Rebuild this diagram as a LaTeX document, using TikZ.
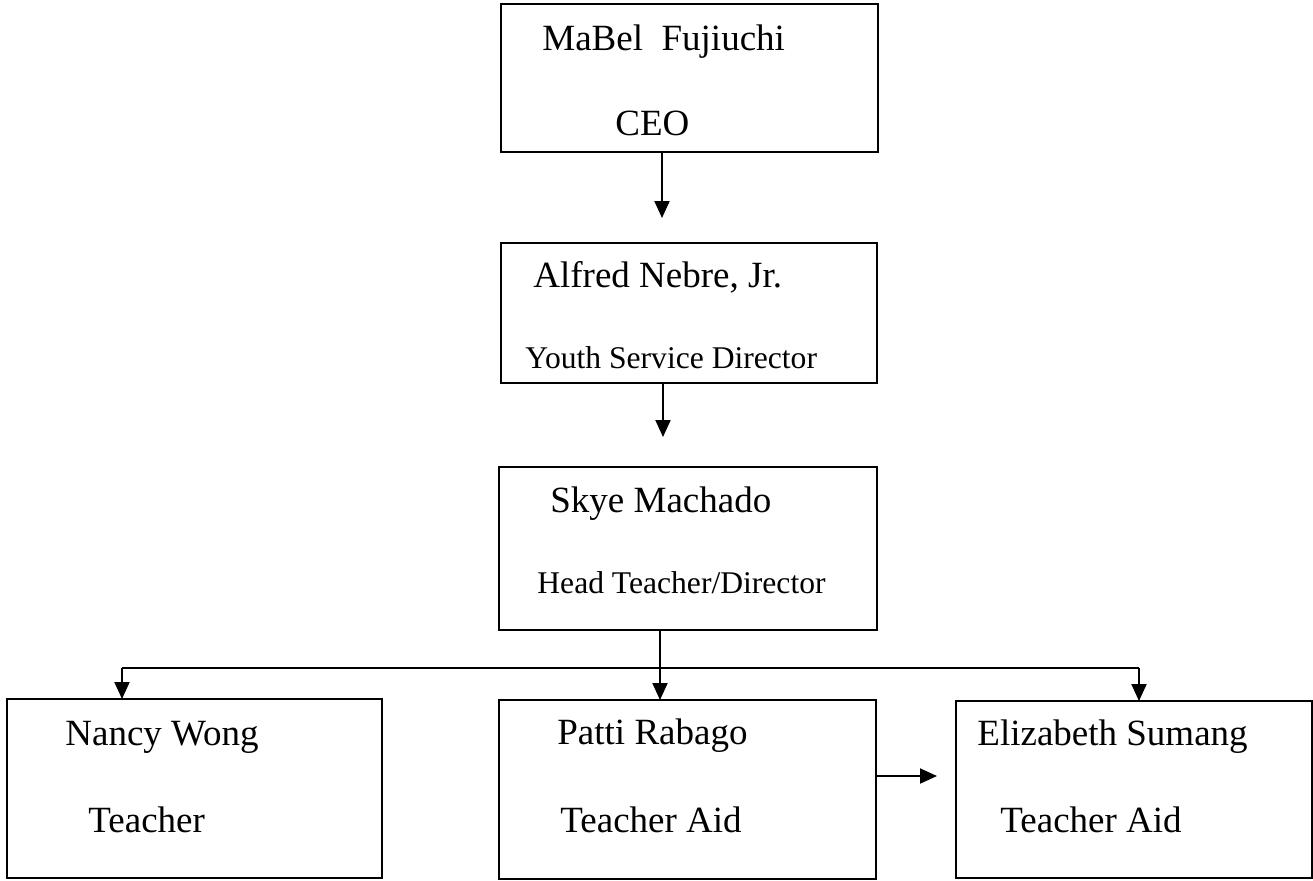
\documentclass[tikz,border=0pt]{standalone}
\usepackage{fontspec}
\setmainfont{Liberation Serif}
\usetikzlibrary{arrows.meta}
\begin{document}
\begin{tikzpicture}[x=0.5pt,y=-0.5pt,
  box/.style={draw, line width=1pt, rectangle, inner sep=0pt, outer sep=0pt},
  big/.style={anchor=base west, inner sep=0pt, font=\fontsize{18.5}{22}\selectfont},
  small/.style={anchor=base west, inner sep=0pt, font=\fontsize{15.8}{19}\selectfont},
  conn/.style={line width=1pt},
  arr/.style={line width=1pt, -{Triangle[length=8.5pt,width=7.5pt]}}]
\useasboundingbox (0,0) rectangle (1313,880);
% boxes
\node[box, minimum width=188.5pt, minimum height=74pt] (b1) at (689.5,78) {};
\node[box, minimum width=188pt, minimum height=70pt] (b2) at (689,313) {};
\node[box, minimum width=189pt, minimum height=81.5pt] (b3) at (688,548.5) {};
\node[box, minimum width=187.5pt, minimum height=89.5pt] (b4) at (194.5,788.5) {};
\node[box, minimum width=188.5pt, minimum height=89.5pt] (b5) at (687.5,789.5) {};
\node[box, minimum width=178pt, minimum height=88.5pt] (b6) at (1134,789.5) {};
% texts
\node[big] (t1a) at (542,50) {MaBel\ \ Fujiuchi};
\node[big] (t1b) at (615,135) {CEO};
\node[big] (t2a) at (533,287) {Alfred Nebre, Jr.};
\node[small] (t2b) at (525,368) {Youth Service Director};
\node[big] (t3a) at (550,512) {Skye Machado};
\node[small] (t3b) at (537,593) {Head Teacher/Director};
\node[big] (t4a) at (65,745) {Nancy Wong};
\node[big] (t4b) at (88,832) {Teacher};
\node[big] (t5a) at (557,744) {Patti Rabago};
\node[big] (t5b) at (560,832) {Teacher Aid};
\node[big] (t6a) at (977,745) {Elizabeth Sumang};
\node[big] (t6b) at (1000,832) {Teacher Aid};
% connectors
\coordinate (a1) at (662,218);
\coordinate (a2) at (663,437);
\coordinate (j) at (660,668);
\coordinate (jl) at (122,668);
\coordinate (jr) at (1139,668);
\coordinate (e) at (937,776);
\draw[arr] (b1.south -| a1) -- (a1);
\draw[arr] (b2.south -| a2) -- (a2);
\draw[conn] (b3.south -| j) -- (j);
\draw[conn] (jl) -- (jr);
\draw[arr] (jl) -- (b4.north -| jl);
\draw[arr] (j) -- (b5.north -| j);
\draw[arr] (jr) -- (b6.north -| jr);
\draw[arr] (b5.east |- e) -- (e);
\end{tikzpicture}
\end{document}
